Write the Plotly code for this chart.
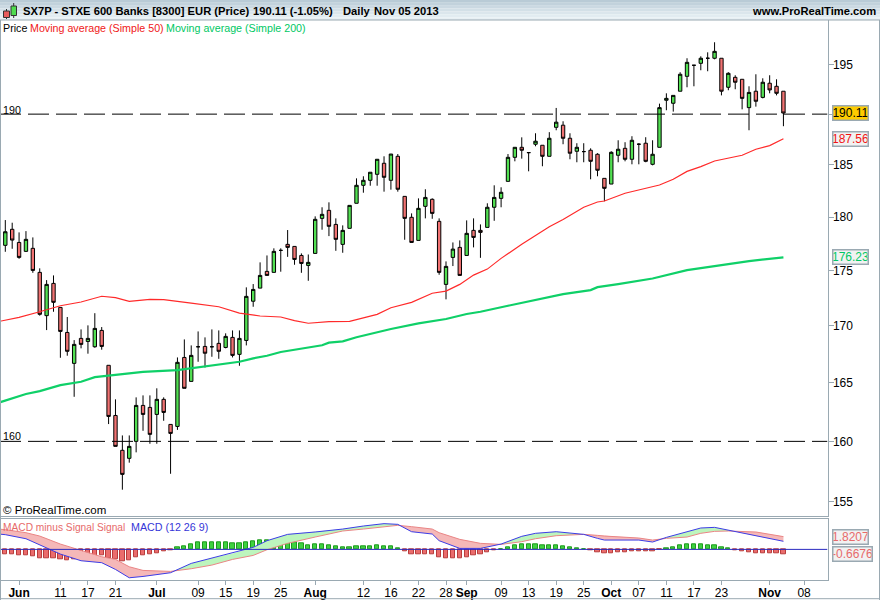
import numpy as np
import plotly.graph_objects as go

# ---------- price candles (index 0 = 30 May 2013) ----------
opens = [177.35,178.85,177.62,176.79,177.07,174.85,170.92,173.84,171.66,169.42,166.69,168.89,168.62,168.15,169.60,166.52,162.19,159.25,158.58,160.00,
163.05,162.88,162.28,163.57,161.43,161.26,167.21,165.12,168.15,168.18,168.15,168.45,168.09,168.98,167.48,168.71,172.22,173.41,174.94,174.85,
176.88,177.44,177.25,176.41,175.49,176.60,179.88,180.64,179.31,177.44,178.94,181.31,183.03,183.51,184.09,185.16,183.51,185.84,181.97,179.98,
177.81,181.02,181.69,179.60,173.75,176.23,177.16,176.41,178.75,178.75,179.03,180.93,181.78,183.41,185.74,186.72,186.20,187.02,186.92,185.84,
188.69,188.90,187.61,186.33,186.30,186.43,186.04,183.70,183.15,185.94,186.62,185.55,187.02,187.12,185.06,186.72,191.39,191.09,192.30,193.81,
194.94,195.14,195.66,195.66,195.66,192.70,193.71,193.51,190.65,192.30,191.68,193.11,192.80,192.30]
closes = [178.62,177.84,176.23,177.91,175.03,171.04,173.75,172.12,169.51,167.75,168.36,168.36,168.89,169.78,168.18,162.11,159.58,157.25,159.58,163.05,
162.28,160.59,163.57,162.45,160.67,166.78,164.52,167.39,168.15,167.58,168.15,167.75,169.07,167.39,168.89,172.66,173.29,174.57,174.57,176.79,
176.88,177.16,176.04,175.67,175.77,179.79,180.26,179.13,177.91,178.75,181.11,183.03,183.51,184.29,185.55,183.80,186.06,182.65,179.88,177.62,
180.83,181.87,180.35,174.85,175.40,177.00,174.57,178.47,178.09,178.56,180.93,181.87,182.36,185.74,186.72,186.43,186.20,187.32,185.84,187.61,
189.20,187.61,186.14,186.72,186.30,185.35,184.48,182.74,186.23,186.53,185.55,187.41,187.02,185.35,186.04,190.65,191.58,191.88,194.02,195.24,
194.94,195.66,195.66,196.37,192.30,194.12,193.21,191.58,192.18,191.29,193.21,192.43,192.09,190.11]
highs = [179.72,179.47,178.56,178.68,178.09,175.22,174.14,174.57,171.66,170.80,168.74,169.69,170.05,171.14,169.90,166.52,163.57,160.50,160.50,163.74,
163.91,163.91,164.52,163.74,161.43,167.21,168.80,168.27,169.51,168.98,169.69,169.60,169.34,169.60,169.60,173.48,173.78,175.77,176.41,177.07,
177.07,178.78,177.25,176.60,176.50,180.07,180.93,181.40,179.88,179.22,181.11,183.70,183.90,184.29,185.55,185.84,186.06,186.06,181.97,180.35,
181.78,182.65,181.78,179.88,175.86,177.62,177.81,179.69,179.88,179.31,181.31,183.03,182.84,186.06,186.72,187.70,186.20,188.10,186.92,188.21,
190.62,189.29,188.10,187.12,187.12,186.62,186.14,183.70,186.33,187.41,187.22,187.81,187.12,187.71,187.41,191.05,192.09,191.88,194.23,195.66,
194.94,195.86,196.27,197.31,195.66,194.23,193.92,193.51,192.80,194.02,193.61,193.92,193.51,192.30]
lows = [176.75,177.03,176.10,176.75,174.81,170.92,169.63,171.27,167.18,167.36,163.79,168.01,167.54,168.06,167.89,161.46,159.58,155.99,158.22,159.08,
160.89,159.80,159.80,161.74,157.30,160.97,164.52,165.12,166.83,166.33,167.27,167.09,168.01,167.21,166.48,168.27,171.72,173.41,174.57,174.85,
174.91,176.28,175.55,174.81,174.08,176.60,178.81,178.21,176.84,176.66,178.94,181.31,182.32,182.99,182.99,182.42,182.61,182.42,177.87,177.62,
177.81,179.88,179.84,174.63,172.39,175.43,174.57,176.41,177.16,176.19,179.03,179.65,180.93,183.41,185.35,185.61,184.38,186.82,184.87,185.84,
188.40,187.02,185.55,185.26,185.26,183.61,183.90,181.50,183.15,185.26,185.35,185.06,185.06,185.26,184.96,186.72,190.39,190.25,192.30,192.70,
192.80,194.43,194.33,195.55,191.88,192.40,192.50,190.48,188.40,190.75,191.58,192.09,191.88,188.80]

# ---------- moving averages (read at the listed candle indices) ----------
ma50_idx = [-1,2,5,8,11,14,16,18,21,23,27,31,34,37,40,42,44,47,50,54,56,59,62,64,66,68,70,72,75,77,79,81,84,86,87,90,95,97,99,101,103,107,109,111,113]
ma50_val = [170.39,170.77,171.27,171.81,172.15,172.67,172.54,172.21,172.39,172.36,172.05,171.72,171.15,170.89,170.80,170.47,170.24,170.38,170.41,171.04,171.63,172.12,172.94,173.14,173.75,174.60,175.15,176.14,177.45,178.31,179.09,179.78,180.93,181.43,181.53,182.27,183.06,183.61,184.37,184.83,185.38,185.94,186.53,186.89,187.56]
ma200_idx = [-1,1,3,5,8,11,13,17,20,25,29,34,36,38,40,43,46,47,49,51,54,56,60,64,67,69,73,78,81,85,86,89,94,99,103,108,113]
ma200_val = [163.28,163.66,164.03,164.28,164.80,165.09,165.49,165.75,165.95,166.10,166.45,166.83,167.13,167.36,167.69,167.98,168.28,168.51,168.63,168.99,169.44,169.73,170.23,170.62,171.07,171.27,171.81,172.48,172.87,173.23,173.50,173.78,174.29,175.06,175.43,175.89,176.23]

# ---------- MACD panel ----------
hist_val = [-.71,-.71,-.86,-.86,-1.0,-1.29,-1.29,-1.29,-1.43,-1.57,-1.43,-1.43,-1.29,-1.0,-.86,-1.29,-1.43,-1.71,-1.57,-1.14,
-.86,-.71,-.57,-.24,-.19,.29,.48,.76,1.0,1.0,1.0,1.0,1.0,.86,.86,1.0,1.14,1.29,1.29,1.29,
1.29,1.29,1.0,.86,.57,.71,.71,.57,.43,.29,.29,.43,.43,.43,.57,.43,.43,.14,-.29,-.71,
-.71,-.71,-.71,-1.14,-1.29,-1.29,-1.29,-1.14,-.86,-.71,-.43,-.14,.03,.29,.57,.76,.76,.76,.57,.57,
.57,.43,.29,.14,.03,-.14,-.43,-.57,-.57,-.43,-.43,-.29,-.29,-.29,-.29,-.03,.14,.29,.57,.76,
.76,.76,.57,.57,.29,.14,-.14,-.29,-.43,-.57,-.57,-.57,-.57,-.6676]
line_idx = [-1,0,3,5,8,11,14,16,18,20,24,27,30,33,36,38,41,45,49,52,55,57,59,62,63,66,69,72,75,77,80,82,84,86,87,92,94,96,99,101,103,105,109,113]
macd_val = [2.19,2.10,1.52,.62,-.67,-1.62,-1.90,-2.86,-4.05,-3.86,-3.33,-2.00,-1.24,-.57,.29,1.24,2.14,2.48,2.90,3.33,3.67,3.57,2.52,2.19,1.24,.14,.14,.76,1.86,2.29,2.52,2.33,2.14,1.57,1.33,1.33,1.05,1.71,2.52,3.05,3.14,2.76,1.90,1.153]
signal_val = [2.90,2.81,2.38,1.90,.76,-.19,-1.05,-1.43,-2.48,-3.00,-3.14,-2.76,-2.24,-1.43,-.86,-.05,.86,1.76,2.62,2.90,3.24,3.43,3.24,2.90,2.38,1.43,.86,.71,1.10,1.52,1.95,2.05,2.14,2.00,1.90,1.62,1.33,1.57,1.76,2.29,2.57,2.62,2.48,1.8207]

# ---------- axis labels ----------
tick_idx = [2,8,12,16,22,28,32,36,40,45,52,56,60,64,67,72,76,80,84,88,92,96,100,104,111,116]
tick_txt = ["<b>Jun</b>","11","17","21","<b>Jul</b>","09","15","19","25","<b>Aug</b>","12","16","22","28","<b>Sep</b>","09","13","19","25","<b>Oct</b>","07","11","17","23","<b>Nov</b>","08"]
price_ticks = [155,160,165,170,175,180,185,190,195]
price_tick_txt = ["155","160","165","170","175","180","185","","195"]
levels = [190,160]

W, H = 880, 600
FRAME = "#9aa9b2"
FONT = "Liberation Sans"
px = lambda x: x / W
py = lambda y: 1 - y / H
X0, X1 = -0.77, 119.4
n = len(opens)
xs = list(range(n))

fig = go.Figure()

for lv in levels:
    fig.add_trace(go.Scatter(x=[X0, X1], y=[lv, lv], mode="lines",
                             line=dict(color="black", width=1, dash="21px,7px"),
                             xaxis="x", yaxis="y", hoverinfo="skip"))

fig.add_trace(go.Candlestick(
    x=xs, open=opens, high=highs, low=lows, close=closes,
    increasing=dict(line=dict(color="black", width=1), fillcolor="#52e052"),
    decreasing=dict(line=dict(color="black", width=1), fillcolor="#f07272"),
    xaxis="x", yaxis="y"))

fig.add_trace(go.Scatter(x=ma50_idx, y=ma50_val, mode="lines",
                         line=dict(color="#ff2a2a", width=1.2), xaxis="x", yaxis="y"))
fig.add_trace(go.Scatter(x=ma200_idx, y=ma200_val, mode="lines",
                         line=dict(color="#0fd068", width=2.2), xaxis="x", yaxis="y"))

groups, cur, sign = [], [], None
for k in range(len(line_idx)):
    s = macd_val[k] >= signal_val[k]
    if sign is not None and s != sign:
        d0 = macd_val[k - 1] - signal_val[k - 1]
        d1 = macd_val[k] - signal_val[k]
        t = d0 / (d0 - d1)
        cx = line_idx[k - 1] + t * (line_idx[k] - line_idx[k - 1])
        cy = macd_val[k - 1] + t * (macd_val[k] - macd_val[k - 1])
        cur.append((cx, cy, cy))
        groups.append((sign, cur))
        cur = [(cx, cy, cy)]
    cur.append((line_idx[k], macd_val[k], signal_val[k]))
    sign = s
groups.append((sign, cur))
for s, pts in groups:
    gx = [p[0] for p in pts] + [p[0] for p in pts[::-1]]
    gy = [p[1] for p in pts] + [p[2] for p in pts[::-1]]
    fig.add_trace(go.Scatter(x=gx, y=gy, mode="lines", fill="toself",
                             fillcolor="#bdf5bd" if s else "#f5b8b8",
                             line=dict(width=0), xaxis="x2", yaxis="y2", hoverinfo="skip"))

fig.add_trace(go.Bar(
    x=xs, y=hist_val, width=0.62,
    marker=dict(color=["#3fd23f" if v >= 0 else "#ea6c6c" for v in hist_val],
                line=dict(color=["#1d9a1d" if v >= 0 else "#b83c3c" for v in hist_val], width=1)),
    xaxis="x2", yaxis="y2"))

fig.add_trace(go.Scatter(x=line_idx, y=signal_val, mode="lines",
                         line=dict(color="#e98585", width=1), xaxis="x2", yaxis="y2"))
fig.add_trace(go.Scatter(x=line_idx, y=macd_val, mode="lines",
                         line=dict(color="#3c3ce6", width=1), xaxis="x2", yaxis="y2"))
fig.add_trace(go.Scatter(x=[X0, X1], y=[0, 0], mode="lines",
                         line=dict(color="#2a2ac0", width=1), xaxis="x2", yaxis="y2"))

shapes = []
grad = ["#b9cbd6", "#c2d2dc", "#cbd9e2", "#d3e0e7", "#dbe6ec", "#e2ecf1", "#e8f0f4"]
for k, c in enumerate(grad):
    shapes.append(dict(type="rect", xref="paper", yref="paper", layer="below",
                       x0=0, x1=1, y0=py(k * 20 / 7 + 20 / 7), y1=py(k * 20 / 7),
                       fillcolor=c, line=dict(width=0)))
shapes.append(dict(type="line", xref="paper", yref="paper", x0=0, x1=1, y0=py(20), y1=py(20),
                   line=dict(color=FRAME, width=1)))
for a, b, c, d in [(0.5, 20, 0.5, 600), (879.5, 20, 879.5, 600), (0, 598.7, 880, 598.7)]:
    shapes.append(dict(type="line", xref="paper", yref="paper", x0=px(a), x1=px(c), y0=py(b), y1=py(d),
                       line=dict(color=FRAME, width=1)))
for a, b, c, d, col in [(3.5, 11, 9.5, 17.5, "#e85c5c"), (11, 6, 16.5, 15.5, "#4fdc4f")]:
    shapes.append(dict(type="rect", xref="paper", yref="paper", x0=px(a), x1=px(c), y0=py(d), y1=py(b),
                       fillcolor=col, line=dict(color="#333", width=1)))
for a, b, c in [(6.5, 9, 19), (13.7, 3, 18)]:
    shapes.append(dict(type="line", xref="paper", yref="paper", x0=px(a), x1=px(a), y0=py(c),
                       y1=py(b), line=dict(color="#333", width=1), layer="below"))


def text(x, y, s, color="black", size=10.7, anchor="left"):
    return dict(xref="paper", yref="paper", x=px(x + (-2 if anchor == "left" else 2)), y=py(y), text=s, showarrow=False,
                xanchor=anchor, yanchor="middle", align=anchor,
                font=dict(family=FONT, size=size, color=color))


def box(y, s, color, bg, x=832.3, w=34, size=12):
    return dict(xref="paper", yref="paper", x=px(x), y=py(y), text=s, showarrow=False,
                xanchor="left", yanchor="middle", width=w, height=13, align="center",
                font=dict(family=FONT, size=size, color=color),
                bgcolor=bg, bordercolor=FRAME, borderwidth=1.5, borderpad=0)


ann = [
    text(22.5, 11, "<b>SX7P - STXE 600 Banks [8300] EUR (Price)</b>", size=11.2),
    text(253, 11, "<b>190.11 (-1.05%)</b>", size=11.2),
    text(343, 11, "<b>Daily</b>", size=11.2),
    text(374, 11, "<b>Nov 05 2013</b>", size=11.2),
    text(876, 11, "<b>www.ProRealTime.com</b>", size=11.2, anchor="right"),
    text(2.5, 28, "Price"),
    text(30, 28, "Moving average (Simple 50)", color="#f01818"),
    text(166, 28, "Moving average (Simple 200)", color="#00c864"),
    text(3, 110, "190"),
    text(3, 436, "160"),
    text(3, 510, "© ProRealTime.com", size=11.5),
    text(3, 527, "MACD minus Signal Signal", color="#e76a6a", size=10.2),
    text(131, 527, "MACD (12 26 9)", color="#3535d8"),
    box(113, "190.11", "black", "#ffcc00"),
    box(139, "187.56", "#f01414", "#f2f2f2"),
    box(256.7, "176.23", "#00c864", "#f2f2f2"),
    box(537, "1.8207", "#e76a6a", "#f2f2f2"),
    box(554, "-0.6676", "#e76a6a", "#f2f2f2", w=38),
]

x_dom = [0, 827.5 / W]
fig.update_layout(
    width=W, height=H, margin=dict(l=0, r=0, t=0, b=0, autoexpand=False),
    paper_bgcolor="white", plot_bgcolor="rgba(0,0,0,0)",
    showlegend=False, bargap=0, barmode="overlay",
    shapes=shapes, annotations=ann,
    font=dict(family=FONT, size=12, color="black"),
    hovermode=False,
    xaxis=dict(domain=x_dom, range=[X0, X1], anchor="y", showgrid=False, zeroline=False,
               showticklabels=False, ticks="", rangeslider=dict(visible=False),
               showline=True, linecolor=FRAME, linewidth=1, fixedrange=True),
    yaxis=dict(domain=[py(516), py(20)], type="log", side="right", anchor="x",
               range=[float(np.log10(153.85)), float(np.log10(199.63))],
               tickvals=price_ticks, ticktext=price_tick_txt,
               tickmode="array", ticks="outside", ticklen=5, tickcolor=FRAME, showgrid=False,
               zeroline=False, showline=True, linecolor=FRAME, linewidth=1, fixedrange=True,
               ticklabelstandoff=-3,
               tickfont=dict(family=FONT, size=12, color="black")),
    xaxis2=dict(domain=x_dom, range=[X0, X1], anchor="y2", showgrid=False, zeroline=False,
                tickmode="array", tickvals=tick_idx, ticktext=tick_txt, ticks="outside",
                ticklen=4, tickcolor=FRAME, showline=True, linecolor=FRAME, linewidth=1,
                mirror=True, tickangle=0, fixedrange=True, ticklabelstandoff=-3,
                tickfont=dict(family=FONT, size=12, color="black")),
    yaxis2=dict(domain=[py(580.3), py(519.3)], range=[-4.41, 4.29], anchor="x2", side="right",
                showticklabels=False, ticks="", showgrid=False, zeroline=False,
                showline=True, linecolor=FRAME, linewidth=1, mirror=True, fixedrange=True),
)

fig.write_html("out.html", config=dict(displayModeBar=False),
               post_script="""
var s='html,body{margin:0;padding:0;width:880px;height:600px;overflow:hidden}.plotly-graph-div{display:block;width:880px;height:600px;overflow:hidden}';
var e=document.createElement('style');e.textContent=s;document.head.appendChild(e);
""")
